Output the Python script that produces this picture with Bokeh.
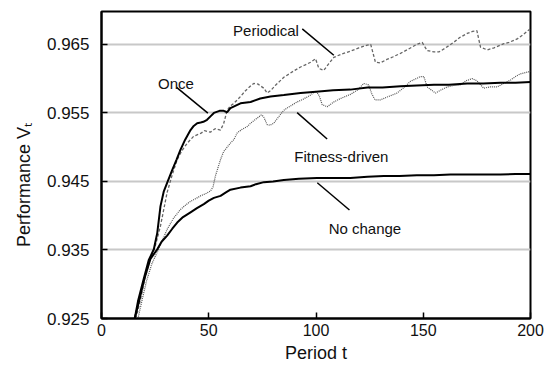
from bokeh.plotting import figure
from bokeh.models import Range1d, FixedTicker, PrintfTickFormatter, Label
from bokeh.embed import file_html
from bokeh.resources import INLINE

# ---------------- data ----------------
once_t = [15.5, 17, 19.7, 22, 24.4, 26, 27.5, 29, 30.6, 33, 35, 36.8, 39, 41.5, 43, 44.6,
          46.2, 47.5, 49.2, 50.8, 52.4, 55, 57, 58.6, 60.1, 64.8, 69.5, 74, 78.8, 85, 92.8,
          100, 108, 116, 124, 131, 139.4, 147, 155, 162, 170.5, 178, 186, 193, 200]
once_v = [0.925, 0.9275, 0.9308, 0.9335, 0.9351, 0.9375, 0.9414, 0.9435, 0.9448, 0.9467,
          0.9482, 0.9496, 0.9511, 0.9525, 0.9531, 0.9535, 0.9536, 0.9537, 0.9540, 0.9545,
          0.9550, 0.9553, 0.9553, 0.9551, 0.9557, 0.9564, 0.9566, 0.9571, 0.9574, 0.9576,
          0.9579, 0.9581, 0.9583, 0.9584, 0.9587, 0.9587, 0.9589, 0.9590, 0.9591, 0.9591,
          0.9593, 0.9593, 0.9594, 0.9594, 0.9595]

nochange_t = [15.5, 17.5, 20, 22.8, 26, 28, 30.6, 33, 35.3, 38, 41.5, 44.5, 47.7, 50, 52.4,
              55.5, 58, 60.1, 64.8, 69.5, 72, 75.7, 80, 85, 92, 100.5, 108, 116, 124, 131.6,
              139, 147, 155, 162.7, 170, 178, 186, 193, 200]
nochange_v = [0.925, 0.9275, 0.9308, 0.9337, 0.9351, 0.9362, 0.9371, 0.9381, 0.9390, 0.9398,
              0.9405, 0.9411, 0.9417, 0.9422, 0.9426, 0.9429, 0.9434, 0.9438, 0.9441, 0.9443,
              0.9446, 0.9449, 0.9450, 0.9452, 0.9454, 0.9455, 0.9455, 0.9455, 0.9457, 0.9458,
              0.9458, 0.9459, 0.9459, 0.9460, 0.9460, 0.9460, 0.9460, 0.9461, 0.9461]

periodical_t = [16, 18, 20, 22.5, 25, 27.5, 30.6, 33, 35.3, 37.5, 40, 43, 46.2, 48, 50.8, 53,
                55.5, 57, 58.6, 60, 61.7, 63.3, 64.8, 67, 69, 71, 73, 75.7, 77.2, 79, 81, 83,
                85, 88, 90, 92.8, 95, 97.5, 99.8, 101.3, 103.6, 106, 108.3, 112, 116, 120,
                123.9, 125.5, 127.7, 130, 133, 136, 139.4, 143, 147, 149.5, 151.8, 155, 157.3,
                160, 164.2, 167, 170.5, 173, 175, 176.7, 179.8, 183, 187.6, 190, 193.8, 196.5,
                199.2, 200]
periodical_v = [0.925, 0.9275, 0.9305, 0.9335, 0.9355, 0.9385, 0.9434, 0.9460, 0.9482, 0.9495,
                0.9506, 0.9516, 0.9520, 0.9524, 0.9522, 0.9527, 0.9525, 0.9535, 0.9554, 0.9560,
                0.9564, 0.9569, 0.9574, 0.9582, 0.9588, 0.9593, 0.9592, 0.9586, 0.9579, 0.9583,
                0.9590, 0.9596, 0.9602, 0.9608, 0.9612, 0.9617, 0.9620, 0.9624, 0.9629, 0.9615,
                0.9612, 0.9622, 0.9631, 0.9636, 0.9640, 0.9645, 0.9649, 0.9650, 0.9624, 0.9623,
                0.9628, 0.9632, 0.9637, 0.9643, 0.9650, 0.9653, 0.9641, 0.9639, 0.9639, 0.9644,
                0.9653, 0.9660, 0.9666, 0.9669, 0.9670, 0.9646, 0.9642, 0.9645, 0.9651, 0.9653,
                0.9658, 0.9664, 0.9671, 0.9673]

fitness_t = [17, 19, 21, 23.5, 26, 28.5, 30.6, 33.5, 36.8, 39, 41.5, 44, 46.2, 48.5, 50.8,
             52, 53.1, 54.3, 55.5, 57, 58.6, 60.1, 61.7, 63.3, 65.5, 67.9, 69.5, 72, 74.5,
             75.5, 77.2, 78.5, 80.3, 83, 85, 88, 91.2, 94, 97.4, 100, 101.5, 102.9, 105.2,
             108.3, 111.4, 116, 119.2, 122.3, 124.5, 126, 127.5, 130, 133, 137.8, 141, 144,
             148.7, 150.3, 151.8, 155.7, 158, 161.2, 164.2, 167.4, 170, 172.8, 175, 178.2,
             181, 184.5, 187.5, 190.7, 193, 195.3, 199.2, 200]
fitness_v = [0.925, 0.9278, 0.9305, 0.9330, 0.9347, 0.9365, 0.9380, 0.9396, 0.9409, 0.9415,
             0.9421, 0.9425, 0.9429, 0.9432, 0.9436, 0.9442, 0.9458, 0.9470, 0.9482, 0.9494,
             0.9500, 0.9506, 0.9511, 0.9521, 0.9526, 0.9530, 0.9535, 0.9541, 0.9547, 0.9545,
             0.9533, 0.9532, 0.9535, 0.9546, 0.9554, 0.9560, 0.9566, 0.9570, 0.9576, 0.9582,
             0.9575, 0.9562, 0.9559, 0.9566, 0.9571, 0.9577, 0.9583, 0.9593, 0.9591, 0.9578,
             0.9569, 0.9569, 0.9573, 0.9579, 0.9587, 0.9596, 0.9603, 0.9603, 0.9588, 0.9579,
             0.9583, 0.9588, 0.9590, 0.9591, 0.9597, 0.9600, 0.9597, 0.9586, 0.9588, 0.9588,
             0.9593, 0.9598, 0.9603, 0.9607, 0.9610, 0.9611]

x_ticks = [0, 50, 100, 150, 200]
y_ticks = [0.925, 0.935, 0.945, 0.955, 0.965]

series_labels = ["Periodical", "Once", "Fitness-driven", "No change"]
x_title = "Period t"
y_title = "Performance V\u209c" + "\u00a0" * 8

FONT = "Liberation Sans"
TXT = "#111111"

p = figure(width=551, height=365, output_backend="svg", toolbar_location=None,
           x_range=Range1d(0, 200), y_range=Range1d(0.925, 0.9698))
p.min_border_left = 101
p.min_border_right = 21
p.min_border_top = 11
p.min_border_bottom = 45

p.outline_line_color = "black"
p.outline_line_width = 2
p.background_fill_color = "white"
p.border_fill_color = "white"

p.xgrid.visible = False
p.ygrid.grid_line_color = "#c8c8c8"
p.ygrid.grid_line_width = 2

p.xaxis.ticker = FixedTicker(ticks=x_ticks)
p.yaxis.ticker = FixedTicker(ticks=y_ticks)
p.yaxis.formatter = PrintfTickFormatter(format="%.3f")
for ax in (p.xaxis, p.yaxis):
    ax.axis_line_width = 2
    ax.axis_line_color = "black"
    ax.major_tick_in = 6
    ax.major_tick_out = 0
    ax.major_tick_line_width = 1.5
    ax.major_tick_line_color = "black"
    ax.minor_tick_line_color = None
    ax.major_label_text_font = FONT
    ax.major_label_text_color = TXT
    ax.axis_label_text_font = FONT
    ax.axis_label_text_font_size = "18px"
    ax.axis_label_text_font_style = "normal"
    ax.axis_label_text_color = TXT
p.xaxis.major_label_text_font_size = "16px"
p.yaxis.major_label_text_font_size = "17px"
p.xaxis.major_label_standoff = 5
p.yaxis.major_label_standoff = 12
p.xaxis.axis_label = x_title
p.yaxis.axis_label = y_title
p.xaxis.axis_label_standoff = 4
p.yaxis.axis_label_standoff = 10

# curves
p.line(periodical_t, periodical_v, line_color="#666666", line_width=1.3, line_dash="3 2")
p.line(fitness_t, fitness_v, line_color="#555555", line_width=1.2, line_dash="1 1")
p.line(nochange_t, nochange_v, line_color="black", line_width=2)
p.line(once_t, once_v, line_color="black", line_width=2)

# annotations with leader lines
lab_x = [76.7, 34.7, 111.8, 122.8]
lab_y = [0.96703, 0.9593, 0.94858, 0.93819]
lead_x0 = [93.6, 35.0, 91.2, 100.6]
lead_y0 = [0.96727, 0.95872, 0.95504, 0.94481]
lead_x1 = [108.3, 49.6, 105.2, 115.6]
lead_y1 = [0.96341, 0.95496, 0.95119, 0.94084]
p.segment(lead_x0, lead_y0, lead_x1, lead_y1, line_color="black", line_width=1.5)
for txt, lx, ly in zip(series_labels, lab_x, lab_y):
    p.add_layout(Label(x=lx, y=ly, text=txt, text_align="center", text_baseline="alphabetic",
                       text_font=FONT, text_font_size="15px", text_color=TXT))

open("out.html", "w").write(file_html(p, INLINE))
